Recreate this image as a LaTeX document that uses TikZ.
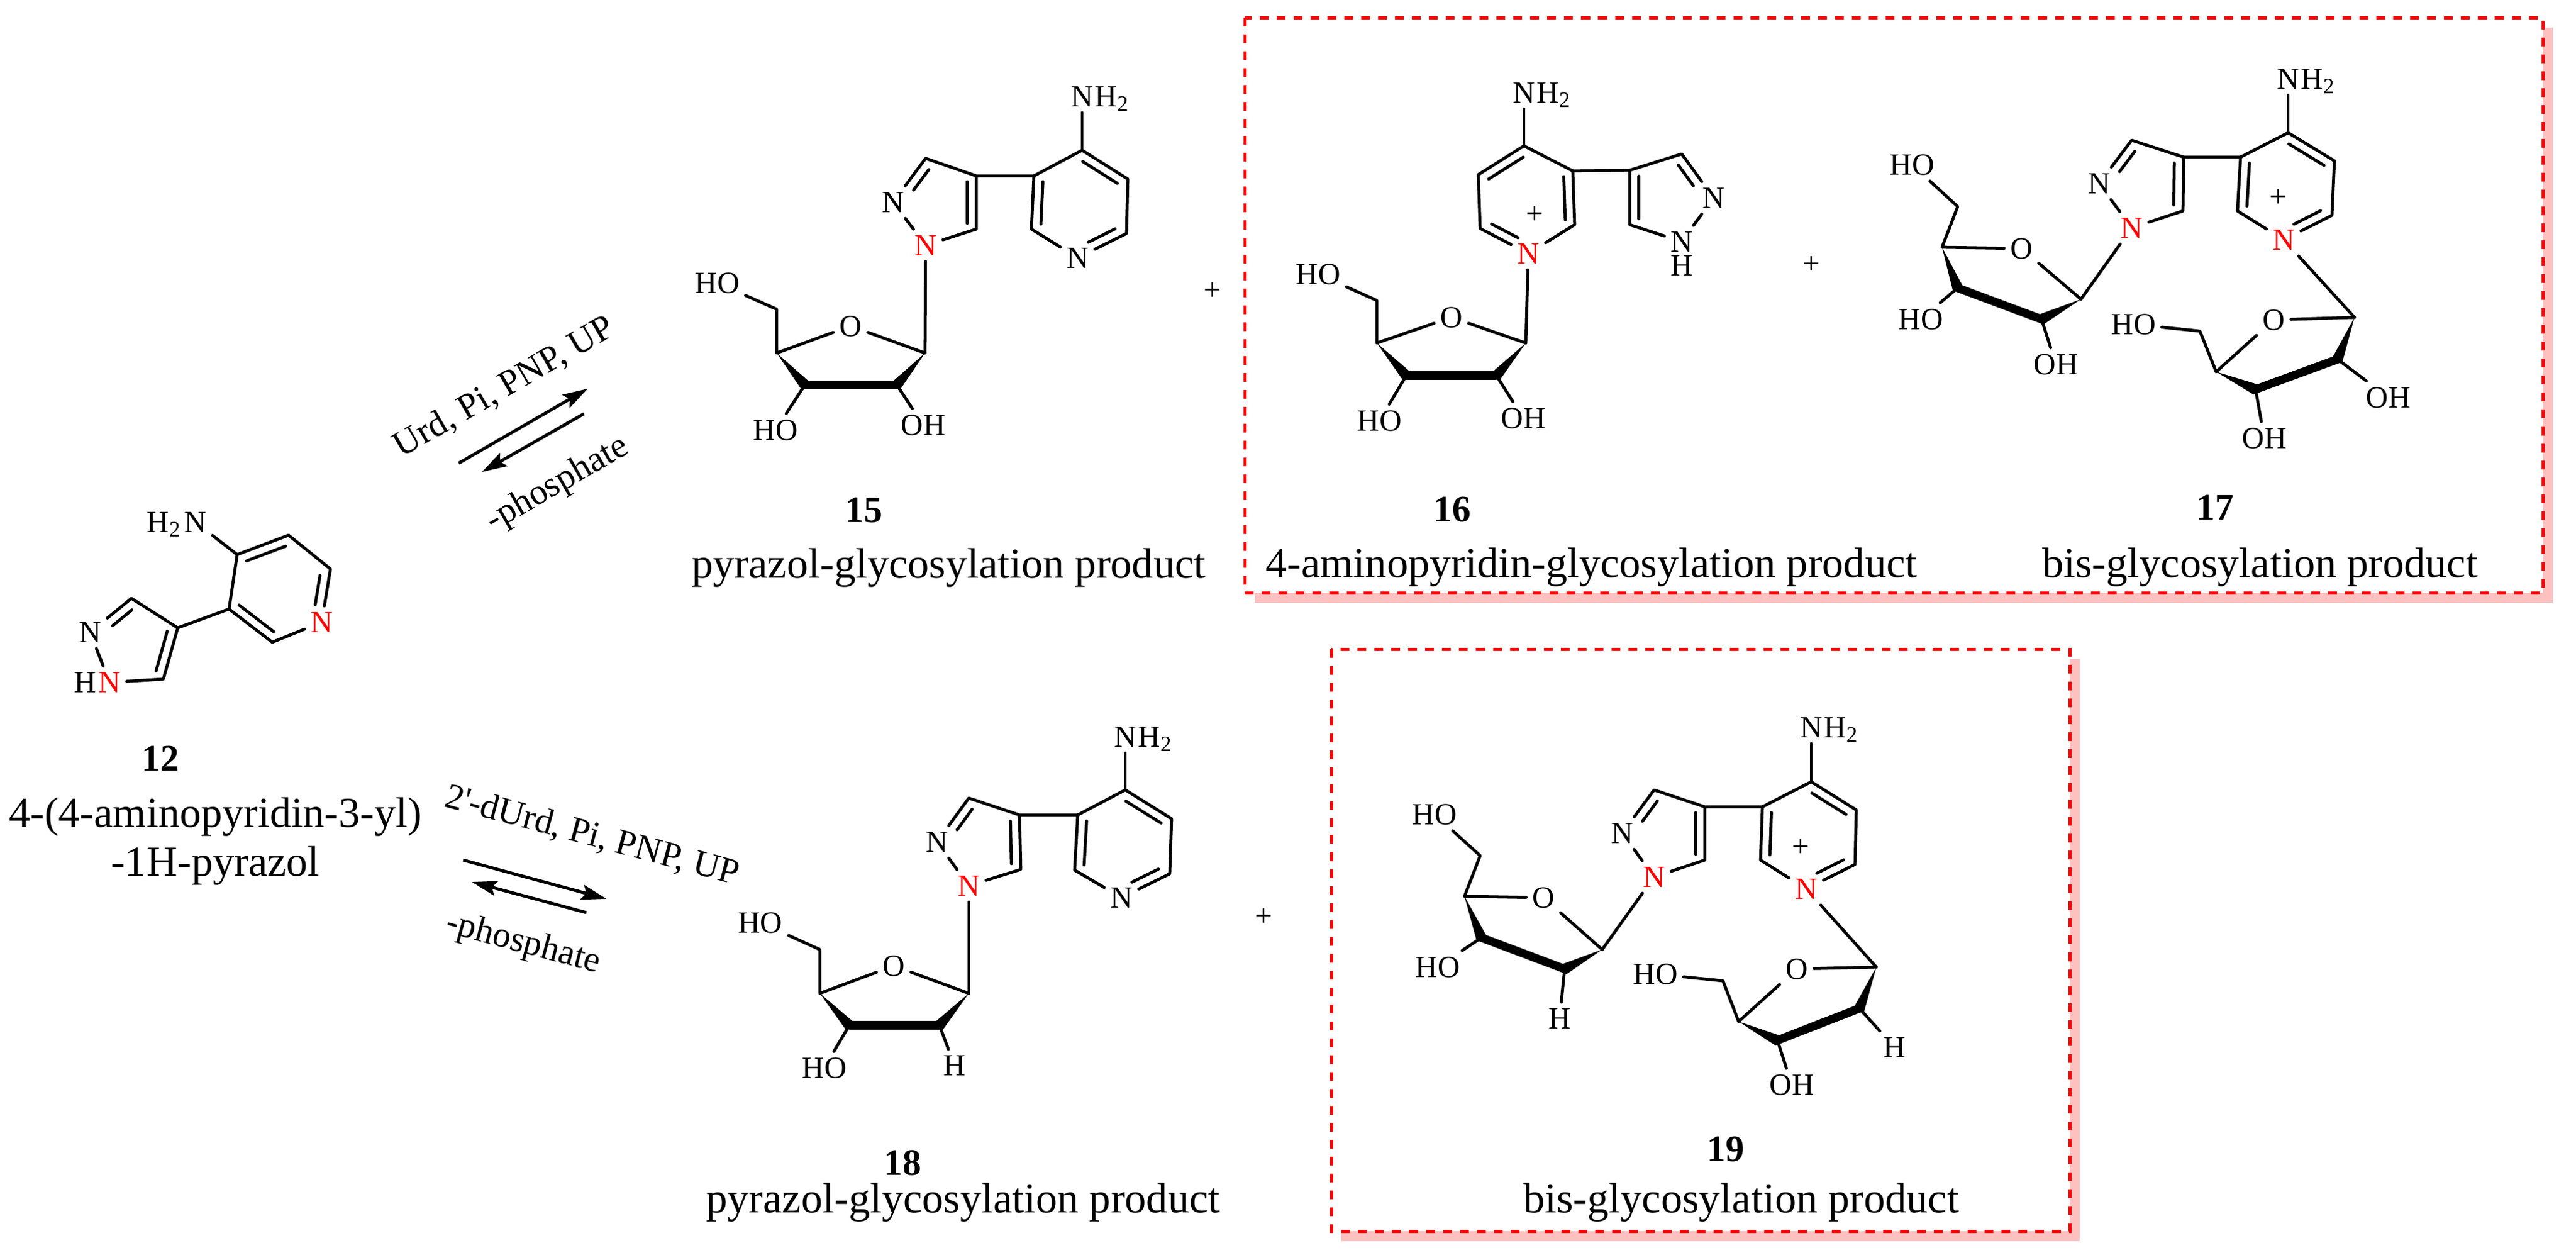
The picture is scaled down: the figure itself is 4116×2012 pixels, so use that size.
\documentclass[tikz,border=0pt]{standalone}
\usepackage{fontspec}
\setmainfont{Liberation Serif}
\usetikzlibrary{positioning,calc,arrows.meta}
\definecolor{boxred}{RGB}{255,0,0}
\definecolor{boxpink}{RGB}{255,192,192}
\tikzset{
  bond/.style={line width=.68pt,line cap=round,line join=round},
  boldbond/.style={line width=1.9pt},
  atom/.style={font=\fontsize{7}{8}\selectfont,inner sep=1.2pt},
  redatom/.style={atom,text=boxred},
  number/.style={font=\fontsize{8.5}{10}\selectfont\bfseries,inner sep=0pt},
  title/.style={font=\fontsize{9.72}{11}\selectfont,inner sep=0pt},
  cond/.style={font=\fontsize{8.2}{10}\selectfont,inner sep=0pt},
  rxn/.style={line width=.7pt,-{Stealth[length=5.7pt,width=3.4pt,inset=1pt]}},
  redbox/.style={draw=boxred,fill=white,line width=.71pt,dash pattern=on 2pt off 1.85pt},
}
\newcommand{\innerbond}[5]{\draw[bond] ($(#1)!#4!(#2)!#3!-90:(#2)$) -- ($(#2)!#5!(#1)!#3!90:(#1)$);}
\newcommand{\wedgebond}[5]{\fill (#1) -- ($($(#2)!.95pt!#4:(#3)$)!.8pt!(#3)$) -- ($(#2)!.95pt!#5:(#3)$)
  -- ($($(#2)!.95pt!#5:(#3)$)!-.8pt!(#3)$) -- cycle;}
\newcommand{\biaryl}[2]{
  \draw[bond] (#1a)--(#1b)--(#1c)--(#1n)--(#1d)--(#1e)--(#1a);
  \draw[bond] (#1e)--(#1f)--(#1g)--(#1m)--(#1k)--(#1l)--(#1f);
  \draw[bond] (#1a)--(#1h);
  \innerbond{#1a}{#1b}{#2}{.12}{.12}
  \innerbond{#1c}{#1n}{#2}{.15}{.3}
  \innerbond{#1d}{#1e}{#2}{.1}{.1}
  \innerbond{#1f}{#1g}{#2}{.11}{.11}
  \innerbond{#1k}{#1l}{#2}{.4}{.13}
}
\newcommand{\furanose}[1]{
  \draw[bond] (#1q)--(#1r)--(#1s)--(#1o)--(#1t);
  \wedgebond{#1s}{#1u}{#1v}{90}{-90}
  \wedgebond{#1t}{#1v}{#1u}{-90}{90}
  \draw[boldbond] (#1u)--(#1v);
  \draw[bond] (#1u)--(#1w);
  \draw[bond] (#1v)--(#1x);
}
\begin{document}
\begin{tikzpicture}[x=0.005cm,y=-0.005cm]
  \useasboundingbox (0,0) rectangle (4116,2012);
  % boxes with their shadows
  \fill[boxpink] (2005,44) rectangle (4079,963);
  \draw[redbox] (1989,28) rectangle (4063,947);
  \fill[boxpink] (2143,1053) rectangle (3323,1983);
  \draw[redbox] (2127,1037) rectangle (3307,1967);
  % 12
  \foreach \n/\x/\y in {a/379/886,b/461/855,c/528/909,d/435/1026,e/366/973,f/284/1003,g/261/1085,l/210/956}
    \coordinate (p12\n) at (\x,\y);
  \node[redatom] (p12n) at (514,994) {N};
  \node[redatom] (p12m) at (175,1090) {N};
  \node[atom] (p12k) at (144,1010) {N};
  \node[atom] (p12h) at (312,834) {N};
  \node[atom,base left=-2.4pt of p12h] (p12hh) {H\textsubscript{2}};
  \node[atom,base left=-2.4pt of p12m] (p12mh) {H};
  \biaryl{p12}{2.1pt}
  \node[number] (lab12) at (256,1212) {12};
  \node[title] (name12a) at (344,1305) {4-(4-aminopyridin-3-yl)};
  \node[title] (name12b) at (344,1383) {-1H-pyrazol};
  % reaction arrows
  \foreach \n/\x/\y in {u1/733/740,u2/939/621,u3/933/661,u4/770/754,v1/740/1374,v2/969/1436,v3/937/1458,v4/754/1409}
    \coordinate (\n) at (\x,\y);
  \draw[rxn] (u1) -- (u2);
  \draw[rxn] (u3) -- (u4);
  \draw[rxn] (v1) -- (v2);
  \draw[rxn] (v3) -- (v4);
  \node[cond,rotate=30] (condu) at (806,619) {Urd, Pi, PNP, UP};
  \node[cond,rotate=30] (condp) at (891,774) {-phosphate};
  \node[cond,rotate=-15] (condv) at (946,1336) {2\textquotesingle-dUrd, Pi, PNP, UP};
  \node[cond,rotate=-15] (condq) at (836,1508) {-phosphate};
  % 15
  \foreach \n/\x/\y in {a/1729/240,b/1802/286,c/1800/373,d/1648/366,e/1652/281,f/1560/281,g/1560/366,l/1479/253,
      sr/1241/494,ss/1241/564,st/1478/564,su/1286/615,sv/1433/615}
    \coordinate (p15\n) at (\x,\y);
  \node[atom] (p15n) at (1722,412) {N};
  \node[redatom] (p15m) at (1479,392) {N};
  \node[atom] (p15k) at (1427,323) {N};
  \node[atom] (p15h) at (1729,154) {N};
  \node[atom,base right=-2.4pt of p15h] (p15hh) {H\textsubscript{2}};
  \node[atom] (p15so) at (1359,521) {O};
  \node[atom] (p15sq) at (1146,452) {HO};
  \node[atom] (p15sw) at (1239,687) {HO};
  \node[atom] (p15sx) at (1475,679) {OH};
  \biaryl{p15}{2.1pt}
  \furanose{p15s}
  \draw[bond] (p15m) -- (p15st);
  \node[number] (lab15) at (1380,815) {15};
  \node[title] (name15) at (1516,907) {pyrazol-glycosylation product};
  \node[atom] (plus15) at (1937,466) {+};
  % 16
  \foreach \n/\x/\y in {a/2435/233,b/2362/279,c/2365/365,d/2516/359,e/2513/273,f/2604/272,g/2604/359,l/2687/246,
      sr/2200/480,ss/2200/548,st/2438/548,su/2247/600,sv/2391/600}
    \coordinate (p16\n) at (\x,\y);
  \node[redatom] (p16n) at (2442,405) {N};
  \node[atom] (p16m) at (2687,386) {N};
  \node[atom] (p16mh) at (2687,424) {H};
  \node[atom] (p16k) at (2738,316) {N};
  \node[atom] (p16h) at (2435,148) {N};
  \node[atom,base right=-2.4pt of p16h] (p16hh) {H\textsubscript{2}};
  \node[atom] (p16so) at (2319,507) {O};
  \node[atom] (p16sq) at (2106,438) {HO};
  \node[atom] (p16sw) at (2204,672) {HO};
  \node[atom] (p16sx) at (2434,668) {OH};
  \biaryl{p16}{-2.1pt}
  \furanose{p16s}
  \draw[bond] (p16n) -- (p16st);
  \node[atom] (charge16) at (2452,344) {+};
  \node[number] (lab16) at (2320,814) {16};
  \node[title] (name16) at (2543,906) {4-aminopyridin-glycosylation product};
  \node[atom] (plus16) at (2894,424) {+};
  % 17
  \foreach \n/\x/\y in {a/3656/212,b/3730/257,c/3726/344,d/3575/337,e/3580/251,f/3489/251,g/3488/337,l/3406/224,
      sr/3128/330,ss/3103/395,st/3325/478,su/3128/460,sv/3262/510,
      zr/3515/529,zs/3541/594,zt/3762/507,zu/3604/622,zv/3735/574}
    \coordinate (p17\n) at (\x,\y);
  \node[redatom] (p17n) at (3649,383) {N};
  \node[redatom] (p17m) at (3406,364) {N};
  \node[atom] (p17k) at (3354,293) {N};
  \node[atom] (p17h) at (3656,126) {N};
  \node[atom,base right=-2.4pt of p17h] (p17hh) {H\textsubscript{2}};
  \node[atom] (p17so) at (3230,397) {O};
  \node[atom] (p17sq) at (3055,263) {HO};
  \node[atom] (p17sw) at (3069,510) {HO};
  \node[atom] (p17sx) at (3285,582) {OH};
  \node[atom] (p17zo) at (3633,511) {O};
  \node[atom] (p17zq) at (3409,518) {HO};
  \node[atom] (p17zw) at (3618,700) {OH};
  \node[atom] (p17zx) at (3816,635) {OH};
  \biaryl{p17}{2.1pt}
  \furanose{p17s}
  \furanose{p17z}
  \draw[bond] (p17m) -- (p17st);
  \draw[bond] (p17n) -- (p17zt);
  \node[atom] (charge17) at (3640,317) {+};
  \node[number] (lab17) at (3539,811) {17};
  \node[title] (name17) at (3611,906) {bis-glycosylation product};
  % 18
  \foreach \n/\x/\y in {a/1798/1262,b/1872/1308,c/1869/1396,d/1717/1390,e/1722/1302,f/1629/1302,g/1631/1389,l/1548/1275,
      sr/1310/1517,ss/1310/1587,st/1548/1587,su/1357/1638,sv/1501/1638}
    \coordinate (p18\n) at (\x,\y);
  \node[atom] (p18n) at (1792,1434) {N};
  \node[redatom] (p18m) at (1548,1415) {N};
  \node[atom] (p18k) at (1497,1345) {N};
  \node[atom] (p18h) at (1798,1177) {N};
  \node[atom,base right=-2.4pt of p18h] (p18hh) {H\textsubscript{2}};
  \node[atom] (p18so) at (1428,1543) {O};
  \node[atom] (p18sq) at (1215,1474) {HO};
  \node[atom] (p18sw) at (1317,1706) {HO};
  \node[atom] (p18sx) at (1525,1702) {H};
  \biaryl{p18}{2.1pt}
  \furanose{p18s}
  \draw[bond] (p18m) -- (p18st);
  \node[number] (lab18) at (1442,1858) {18};
  \node[title] (name18) at (1539,1921) {pyrazol-glycosylation product};
  \node[atom] (plus18) at (2019,1466) {+};
  % 19
  \foreach \n/\x/\y in {a/2894/1249,b/2966/1294,c/2964/1381,d/2813/1374,e/2816/1289,f/2724/1289,g/2724/1374,l/2643/1262,
      sr/2365/1367,ss/2340/1432,st/2560/1517,su/2367/1498,sv/2500/1548,
      zr/2753/1567,zs/2778/1632,zt/2998/1545,zu/2840/1662,zv/2971/1611}
    \coordinate (p19\n) at (\x,\y);
  \node[redatom] (p19n) at (2886,1420) {N};
  \node[redatom] (p19m) at (2643,1401) {N};
  \node[atom] (p19k) at (2592,1331) {N};
  \node[atom] (p19h) at (2894,1162) {N};
  \node[atom,base right=-2.4pt of p19h] (p19hh) {H\textsubscript{2}};
  \node[atom] (p19so) at (2466,1434) {O};
  \node[atom] (p19sq) at (2292,1301) {HO};
  \node[atom] (p19sw) at (2297,1545) {HO};
  \node[atom] (p19sx) at (2492,1627) {H};
  \node[atom] (p19zo) at (2871,1548) {O};
  \node[atom] (p19zq) at (2645,1556) {HO};
  \node[atom] (p19zw) at (2863,1733) {OH};
  \node[atom] (p19zx) at (3027,1673) {H};
  \biaryl{p19}{2.1pt}
  \furanose{p19s}
  \furanose{p19z}
  \draw[bond] (p19m) -- (p19st);
  \draw[bond] (p19n) -- (p19zt);
  \node[atom] (charge19) at (2877,1355) {+};
  \node[number] (lab19) at (2757,1836) {19};
  \node[title] (name19) at (2782,1921) {bis-glycosylation product};
\end{tikzpicture}
\end{document}
